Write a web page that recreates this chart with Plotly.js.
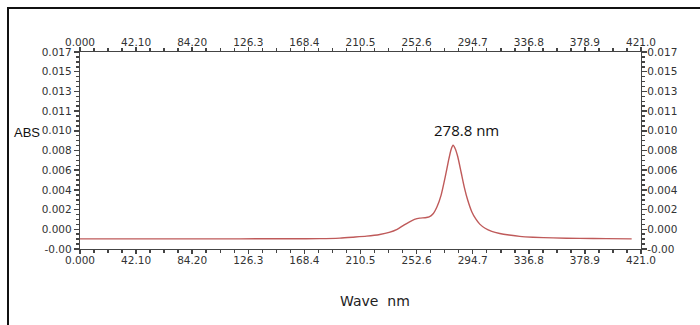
<!DOCTYPE html>
<html>
<head>
<meta charset="utf-8">
<script src="https://cdn.plot.ly/plotly-3.0.1.min.js"></script>
<style>
  html, body { margin: 0; padding: 0; background: #fff; }
  #wrap { position: relative; width: 700px; height: 325px; overflow: hidden; }
  #chart { position: absolute; left: 0; top: 0; width: 700px; height: 325px; }
  #frame { position: absolute; left: 7px; top: 7px; width: 720px; height: 340px;
           border: 2px solid #111; pointer-events: none; }
</style>
</head>
<body>
<div id="wrap"><div id="chart"></div><div id="frame"></div></div>
<script>
// Wavelength (nm) and absorbance
const wave = [0, 40, 80, 120, 160, 180, 195, 205, 215, 225, 232, 238, 243, 247, 251, 255, 259, 262,
  265, 268, 271, 274, 276.5, 278.5, 280, 281.5, 283.5, 286, 288.5, 291, 294, 297, 300, 304, 309,
  315, 322, 330, 340, 355, 375, 395, 414];
const absorbance = [-0.00092, -0.00092, -0.00092, -0.00092, -0.00091, -0.0009, -0.00085, -0.00076,
  -0.00066, -0.0005, -0.0003, 0.0000, 0.0004, 0.0007, 0.00095, 0.00108, 0.00112, 0.0012,
  0.0015, 0.0022, 0.0033, 0.0050, 0.0066, 0.0077, 0.0081, 0.0078, 0.0070, 0.0055, 0.0040,
  0.0028, 0.0017, 0.0010, 0.0005, 0.0001, -0.0002, -0.0004, -0.00055, -0.00068, -0.00076,
  -0.00083, -0.00088, -0.0009, -0.00092];

const xTickVals = [0, 42.1, 84.2, 126.3, 168.4, 210.5, 252.6, 294.7, 336.8, 378.9, 421.0];
const xTickText = ["0.000", "42.10", "84.20", "126.3", "168.4", "210.5", "252.6", "294.7", "336.8", "378.9", "421.0"];
const yTickVals = [-0.0019, 0.0, 0.0019, 0.0038, 0.0057, 0.0076, 0.0095, 0.0114, 0.0133, 0.0152, 0.0171];
const yTickText = ["-0.00", "0.000", "0.002", "0.004", "0.006", "0.008", "0.010", "0.011", "0.013", "0.015", "0.017"];

const peakLabel = "278.8 nm";
const xTitle = "Wave  nm";
const yTitle = "ABS";

const xRange = [0, 421];
const yRange = [-0.0019, 0.0171];

const tickFont = { family: "DejaVu Sans, Verdana, sans-serif", size: 10.5, color: "#333" };

function xAxis(side) {
  return {
    range: xRange, side: side, showgrid: false, zeroline: false,
    showline: true, linecolor: "#444", linewidth: 1.2,
    tickmode: "array", tickvals: xTickVals, ticktext: xTickText,
    ticks: "outside", ticklen: 4, tickwidth: 1.5, tickcolor: "#444",
    ticklabelstandoff: -3,
    tickfont: tickFont,
    minor: { tick0: 0, dtick: 10.525, ticks: "outside", ticklen: 2.5, tickwidth: 1.5, tickcolor: "#444" }
  };
}
function yAxis(side) {
  return {
    range: yRange, side: side, showgrid: false, zeroline: false,
    showline: true, linecolor: "#444", linewidth: 1.2,
    tickmode: "array", tickvals: yTickVals, ticktext: yTickText,
    ticks: "outside", ticklen: 5, tickwidth: 1.5, tickcolor: "#444",
    ticklabelstandoff: side === "right" ? -2 : 0,
    tickfont: tickFont,
    minor: { tick0: -0.0019, dtick: 0.000475, ticks: "outside", ticklen: 2.5, tickwidth: 1.5, tickcolor: "#444" }
  };
}

const traces = [
  { x: wave, y: absorbance, type: "scatter", mode: "lines",
    line: { color: "#bf5a5a", width: 1.4, shape: "spline", smoothing: 0.6 }, hoverinfo: "skip" },
  { x: wave, y: absorbance, xaxis: "x2", yaxis: "y2", type: "scatter", mode: "lines",
    line: { color: "rgba(0,0,0,0)", width: 0 }, hoverinfo: "skip", showlegend: false }
];

const x2 = xAxis("top"); x2.overlaying = "x"; x2.anchor = "y";
const y2 = yAxis("right"); y2.overlaying = "y"; y2.anchor = "x";

const layout = {
  width: 700, height: 325,
  margin: { l: 80, r: 59, t: 52, b: 76 },
  paper_bgcolor: "#fff", plot_bgcolor: "#fff",
  showlegend: false,
  xaxis: xAxis("bottom"),
  yaxis: yAxis("left"),
  xaxis2: x2,
  yaxis2: y2,
  annotations: [
    { text: peakLabel, xref: "x", yref: "y", x: 290.2, y: 0.00957, showarrow: false,
      xanchor: "center", yanchor: "middle",
      font: { family: "Open Sans, sans-serif", size: 15, color: "#111" } },
    { text: yTitle, xref: "paper", yref: "paper", x: -0.1215, y: 0.59, showarrow: false,
      xanchor: "left", yanchor: "middle",
      font: { family: "Liberation Sans, Arial, sans-serif", size: 13, color: "#111" } },
    { text: xTitle, xref: "paper", yref: "paper", x: 0.525, y: -0.265, showarrow: false,
      xanchor: "center", yanchor: "middle",
      font: { family: "DejaVu Sans, Verdana, sans-serif", size: 14, color: "#222" } }
  ]
};

Plotly.newPlot("chart", traces, layout, { displayModeBar: false, staticPlot: true });
</script>
</body>
</html>
